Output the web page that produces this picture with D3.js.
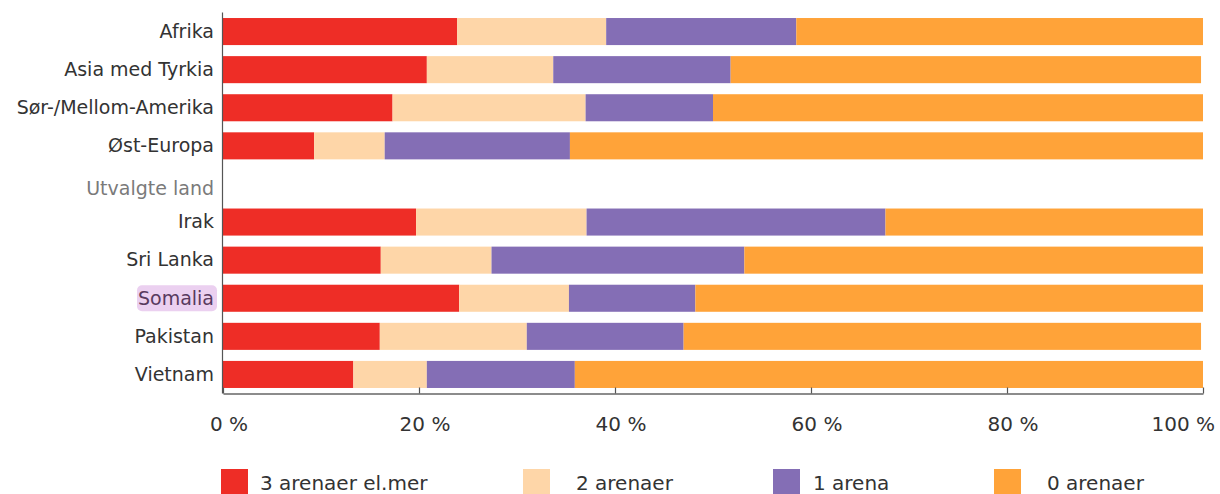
<!DOCTYPE html>
<html>
<head>
<meta charset="utf-8">
<script src="https://cdn.jsdelivr.net/npm/d3@7"></script>
<style>
  html, body { margin: 0; padding: 0; background: #fff; }
  svg { display: block; }
  text { font-family: "DejaVu Sans", Verdana, sans-serif; }
</style>
</head>
<body>
<svg id="chart" width="1220" height="494"></svg>
<script>
// ---- data ----
const categories = ["Afrika", "Asia med Tyrkia", "Sør-/Mellom-Amerika", "Øst-Europa", "Utvalgte land",
                    "Irak", "Sri Lanka", "Somalia", "Pakistan", "Vietnam"];
const seriesNames = ["3 arenaer el.mer", "2 arenaer", "1 arena", "0 arenaer"];
const arenas3 = [23.9, 20.8, 17.3, 9.3, null, 19.7, 16.1, 24.1, 16.0, 13.3];
const arenas2 = [15.2, 12.9, 19.7, 7.2, null, 17.4, 11.3, 11.2, 15.0, 7.5];
const arenas1 = [19.4, 18.1, 13.0, 18.9, null, 30.5, 25.8, 12.9, 16.0, 15.1];
const arenas0 = [41.5, 48.0, 50.0, 64.6, null, 32.4, 46.8, 51.8, 52.8, 64.1];
const tickValues = [0, 20, 40, 60, 80, 100];
const tickLabels = ["0 %", "20 %", "40 %", "60 %", "80 %", "100 %"];
const headerRow = "Utvalgte land";
const highlightRow = "Somalia";

// ---- style / layout ----
const colors = ["#EE2D26", "#FED6A8", "#846EB5", "#FFA339"];
const legendSwatchX = [221, 523, 773, 994];
const legendTextX = [260, 576, 813, 1047];

const svg = d3.select("#chart");
const x0 = 223, x1 = 1203, yTop = 12.5, yBot = 393.5;

const x = d3.scaleLinear().domain([0, 100]).range([x0, x1]);
const y = d3.scaleBand().domain(categories).range([yTop, yBot])
  .paddingInner(0.29).paddingOuter(0.145);

const allSeries = [arenas3, arenas2, arenas1, arenas0];
const rows = categories.map((c, i) => {
  const r = { cat: c };
  seriesNames.forEach((s, j) => r[s] = allSeries[j][i] == null ? 0 : allSeries[j][i]);
  return r;
});
const stacked = d3.stack().keys(seriesNames)(rows);

// bars
svg.append("g").selectAll("g").data(stacked).join("g")
  .attr("fill", (d, i) => colors[i])
  .selectAll("rect").data(d => d.filter(p => p[1] - p[0] > 0)).join("rect")
  .attr("x", d => x(d[0]))
  .attr("width", d => x(d[1]) - x(d[0]))
  .attr("y", d => y(d.data.cat))
  .attr("height", y.bandwidth());

// left axis line
svg.append("line").attr("x1", x0 - 0.5).attr("x2", x0 - 0.5)
  .attr("y1", yTop).attr("y2", yBot)
  .attr("stroke", "#555").attr("stroke-width", 1.2);

// bottom axis (ticks pointing inward)
const xAxis = d3.axisBottom(x).tickValues(tickValues).tickSize(-6).tickSizeOuter(0).tickFormat("");
const gx = svg.append("g").attr("transform", `translate(0,${yBot})`).call(xAxis);
gx.select(".domain").attr("stroke", "#666").attr("stroke-width", 1.5);
gx.selectAll(".tick line").attr("stroke", "#555").attr("stroke-width", 1.2);

// tick labels
const tl = svg.append("g").selectAll("text").data(tickValues).join("text")
  .attr("y", 431)
  .attr("font-size", 20)
  .attr("fill", "#333")
  .attr("text-anchor", "start")
  .text((d, i) => tickLabels[i]);
tl.each(function(d) {
  const w = this.getComputedTextLength();
  let left = x(d) + 6 - w / 2;
  left = Math.max(left, 204);
  left = Math.min(left, 1215 - w);
  d3.select(this).attr("x", left);
});

// category labels
const yl = svg.append("g");
categories.forEach(c => {
  const cy = y(c) + y.bandwidth() / 2 + (c === headerRow ? 5 : 0);
  if (c === highlightRow) {
    yl.append("rect").attr("x", 137).attr("y", cy - 13).attr("width", 80).attr("height", 26)
      .attr("rx", 5).attr("fill", "#EBD0F0");
  }
  yl.append("text")
    .attr("x", 214).attr("y", cy).attr("dy", "0.33em")
    .attr("text-anchor", "end")
    .attr("font-size", 19)
    .attr("fill", c === headerRow ? "#7a7a7a" : (c === highlightRow ? "#583a5e" : "#333"))
    .text(c);
});

// legend
const lg = svg.append("g");
seriesNames.forEach((s, i) => {
  lg.append("rect").attr("x", legendSwatchX[i]).attr("y", 469).attr("width", 27).attr("height", 27)
    .attr("fill", colors[i]);
  lg.append("text").attr("x", legendTextX[i]).attr("y", 490)
    .attr("font-size", 20).attr("fill", "#333").text(s);
});
</script>
</body>
</html>
